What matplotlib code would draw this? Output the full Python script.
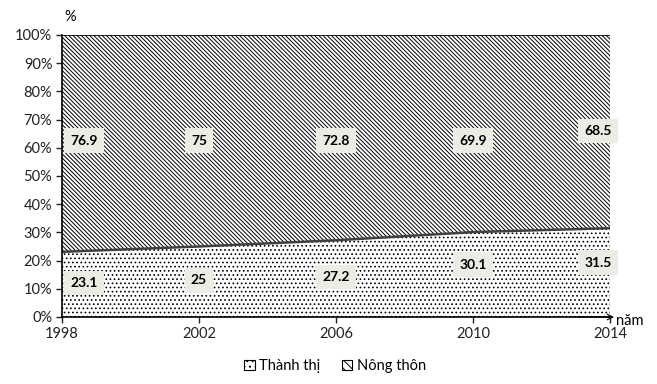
import matplotlib.pyplot as plt
from matplotlib.patches import Patch

plt.rcParams['font.family'] = ['Lato', 'DejaVu Sans']
plt.rcParams['hatch.linewidth'] = 0.7

years = [1998, 2002, 2006, 2010, 2014]
urban = [23.1, 25, 27.2, 30.1, 31.5]
rural = [76.9, 75, 72.8, 69.9, 68.5]
label_x = [1998.65, 2002, 2006, 2010, 2013.65]

fig = plt.figure(figsize=(6.57, 3.84), dpi=100)
ax = fig.add_axes([0.0944, 0.1745, 0.834, 0.7344])

top = [u + r for u, r in zip(urban, rural)]
dots = '....'
lines = '\\' * 8
ax.fill_between(years, 0, urban, facecolor='white', edgecolor='black',
                hatch=dots, linewidth=0)
ax.fill_between(years, urban, top, facecolor='white', edgecolor='black',
                hatch=lines, linewidth=0)
ax.plot(years, urban, color='#404040', lw=1.8)
ax.plot([1998, 2014], [100, 100], color='black', lw=1.2)
ax.plot([2014, 2014], [0, 100], color='black', lw=0.8)

box = dict(boxstyle='square,pad=0.45', facecolor='#ecebe4', edgecolor='none')
for x, u in zip(label_x, urban):
    ax.text(x, u / 2 + (3.5 if u > 29 else 0.5), f'{u:g}', ha='center', va='center',
            fontsize=10, fontweight='bold', bbox=box)
for x, u, r in zip(label_x, urban, rural):
    ax.text(x, 62.5 + (3.5 if u > 31 else 0), f'{r:g}', ha='center', va='center',
            fontsize=10, fontweight='bold', bbox=box)

ax.set_xlim(1998, 2014)
ax.set_ylim(0, 100)
ax.set_xticks(years)
ax.set_yticks(range(0, 101, 10))
ax.set_yticklabels([f'{v}%' for v in range(0, 101, 10)])
ax.tick_params(labelsize=10.5, length=4, width=1, pad=3, colors='#222222')
for s in ['top', 'right']:
    ax.spines[s].set_visible(False)
for s in ['left', 'bottom']:
    ax.spines[s].set_linewidth(1.2)

# axis arrows
ax.annotate('', xy=(1998, 100.5), xytext=(1998, 95),
            arrowprops=dict(arrowstyle='->', lw=0.8, color='black'))
ax.annotate('', xy=(2014.2, 0), xytext=(2013, 0),
            arrowprops=dict(arrowstyle='->', lw=0.8, color='black'),
            annotation_clip=False)
fig.text(70 / 657, 1 - 17 / 384, '%', fontsize=10.5, ha='center', va='center')
fig.text(630 / 657, 1 - 321 / 384, 'năm', fontsize=10.5, ha='center', va='center')

handles = [Patch(facecolor='white', edgecolor='black', hatch='...', lw=0.8),
           Patch(facecolor='white', edgecolor='black', hatch='\\\\\\\\', lw=0.8)]
fig.legend(handles, ['Thành thị', 'Nông thôn'], loc='center',
           bbox_to_anchor=(0.51, 1 - 366 / 384), ncol=2, frameon=False,
           fontsize=10.5, handlelength=0.7, handleheight=0.7, handletextpad=0.3,
           columnspacing=1.5)

fig.savefig('out.png', dpi=100)
